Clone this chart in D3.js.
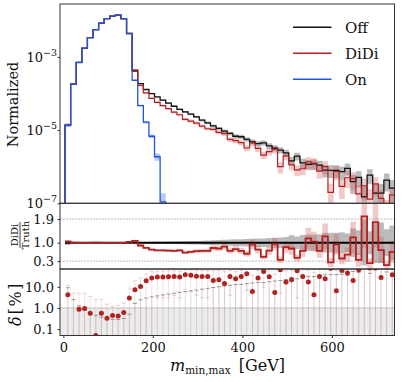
<!DOCTYPE html>
<html><head><meta charset="utf-8">
<script src="https://cdn.jsdelivr.net/npm/d3@7"></script>
<style>body{margin:0;background:#fff}svg{display:block;font-family:'DejaVu Serif',serif}</style>
</head><body><svg id="c" width="407" height="382"></svg>
<script>
// ---- data ----
const binStart = 3.75, binWidth = 12.5;
const xTicks = [0, 200, 400, 600];
const topTicks = [1e-7, 1e-5, 1e-3];
const ratioTicks = [0.3, 1.0, 1.9];
const deltaTicks = [0.1, 1.0, 10.0];
const legendLabels = ["Off", "DiDi", "On"];

const offValues = [1.36e-5,1.8e-4,7.1e-4,1.75e-3,3.37e-3,5.56e-3,8.4e-3,1.11e-2,1.31e-2,1.39e-2,
  1.11e-2,4.33e-3,4.13e-4,1.87e-4,1.29e-4,1.0e-4,8.1e-5,6.6e-5,5.5e-5,4.5e-5,
  3.7e-5,3.15e-5,2.72e-5,2.3e-5,1.87e-5,1.58e-5,1.31e-5,1.11e-5,9.4e-6,8.1e-6,
  6.8e-6,6.6e-6,5.6e-6,4.8e-6,4.3e-6,4.5e-6,3.7e-6,3.2e-6,2.85e-6,2.4e-6,
  1.45e-6,1.95e-6,1.28e-6,1.16e-6,1.2e-6,1.1e-6,8.1e-7,7.9e-7,7.9e-7,7.3e-7,
  9.0e-7,3.9e-7,5.1e-7,1.5e-7,5.9e-7,1.9e-7,1.9e-7,4.3e-7,2.6e-7];
const didiValues = [1.41e-5,1.8e-4,7.04e-4,1.73e-3,3.35e-3,5.56e-3,8.35e-3,1.107e-2,1.305e-2,1.384e-2,
  1.103e-2,4.46e-3,4.43e-4,1.67e-4,1.04e-4,7.4e-5,5.75e-5,4.69e-5,3.85e-5,3.1e-5,
  2.63e-5,1.97e-5,1.77e-5,1.56e-5,1.29e-5,1.09e-5,1.05e-5,8.66e-6,8.04e-6,5.59e-6,
  5.17e-6,4.55e-6,3.25e-6,4.51e-6,3.18e-6,2.07e-6,2.59e-6,3.03e-6,1.0e-6,1.99e-6,
  1.13e-6,8.2e-7,8.8e-7,1.35e-6,1.25e-6,7.6e-7,1.0e-6,2.0e-7,7.4e-7,2.9e-7,
  5.0e-7,4.7e-7,1.8e-7,3.0e-7,1.3e-7,3.4e-7,1.37e-7,6.5e-8,1.7e-7];
const onValues = [1.36e-5,1.8e-4,7.1e-4,1.75e-3,3.37e-3,5.56e-3,8.4e-3,1.11e-2,1.31e-2,1.39e-2,
  1.11e-2,4.33e-3,2.31e-4,4.7e-5,1.65e-5,6.8e-6,1.87e-6,1.1e-7];

const offErrPct = [9.1,2.5,1.27,0.81,0.58,0.45,0.37,0.32,0.29,0.29,
  0.32,0.51,1.66,2.46,2.97,3.37,3.75,4.15,4.55,5.0,
  5.5,6.0,6.5,7.0,7.8,8.5,9.3,10.1,11.0,11.8,
  12.9,13.1,14.2,15.4,16.3,15.9,17.5,18.9,20.0,21.8,
  28,24.1,29.8,31.3,30.8,32.2,37.5,38,38,39.5,
  35.5,54,47,87,44,77,77,51,66];
const didiErrPct = [6,2.5,1.2,0.8,0.6,0.5,0.4,0.4,0.3,0.3,
  0.4,0.6,3.5,5,5.5,6,6.5,7,7.5,8,
  8.5,9,9.5,10,10.5,11,12,13,14,15,
  16,17,18,19,20,22,22,24,35,25,
  30,32,34,34,36,38,40,70,42,55,
  48,50,75,60,85,55,70,90,65];
const onErrPct = [9,2.5,1.3,0.8,0.6,0.45,0.37,0.32,0.29,0.29,0.32,0.5,2.2,5,8,12,22,70];

const ratioValues = [1.04,1.0,0.991,0.991,0.994,1.0,0.994,0.997,0.996,0.996,
  0.994,1.03,1.073,0.895,0.805,0.74,0.71,0.71,0.70,0.69,
  0.71,0.624,0.65,0.68,0.69,0.69,0.80,0.78,0.855,0.69,
  0.76,0.69,0.58,0.94,0.74,0.46,0.70,0.946,0.35,0.83,
  0.78,0.42,0.69,1.168,1.04,0.69,1.24,0.25,0.935,0.40,
  0.55,1.20,0.35,2.0,0.22,1.78,0.72,0.15,0.65];

const deltaValues = [4.2,0.02,0.87,0.94,0.56,0.05,0.56,0.33,0.44,0.42,
  0.61,3.0,7.3,10.5,19.5,26,29,29,30,31,
  29,37.6,35,32,31,31,20,21.7,14.5,31,
  24,31,42,6.0,26,54,30,5.4,65,16.8,
  21.7,58,31,16.8,4.2,31,24,75,6.5,60,
  45,20,65,100,78,78,28,85,37.5];
const deltaErr = [7.5,5,4.1,4.1,2.9,2.4,2.0,1.2,0.75,0.9,
  1.1,5.7,12,15.5,20,28,26,26,27,27,
  26,30,29,28,28,28,38,38,40,27,
  30,30,35,30,35,45,38,35,60,40,
  40,55,45,45,45,50,50,80,55,70,
  60,60,80,120,90,100,90,100,80];

// ---- layout ----
const L = 60, R = 394.5;
const TOP = [4, 203.3], RAT = [203.3, 269], DEL = [269, 335.5];
const FONT = "'DejaVu Serif', serif";
const RED = "#b22222", BLUE = "#1f55dd";

const svg = d3.select('#c');
const x = d3.scaleLinear().domain([-7.5, 740]).range([L, R]);
const yTop = d3.scaleLog().domain([1e-7, 2.8e-2]).range([TOP[1], TOP[0]]);
const yRat = d3.scaleLinear().domain([0, 2.5]).range([RAT[1], RAT[0]]);
const yDel = d3.scaleLog().domain([0.05, 70]).range([DEL[1], DEL[0]]);

const edge = k => binStart + binWidth * k;
const center = k => binStart + binWidth * (k + 0.5);

const defs = svg.append('defs');
function clip(id, p) {
  defs.append('clipPath').attr('id', id).append('rect')
    .attr('x', L).attr('y', p[0]).attr('width', R - L).attr('height', p[1] - p[0]);
}
clip('cTop', TOP); clip('cRat', RAT); clip('cDel', DEL);

function safeY(y, bottom) { return v => (v == null || !(v > 0)) ? bottom + 30 : y(v); }
function stepLine(vals, y, bottom, withBase) {
  const pts = [];
  if (withBase) pts.push([edge(0), null]);
  vals.forEach((v, i) => pts.push([edge(i), v]));
  pts.push([edge(vals.length), vals[vals.length - 1]]);
  if (withBase) pts.push([edge(vals.length), null]);
  const fy = safeY(y, bottom);
  return d3.line().curve(d3.curveStepAfter).x(d => x(d[0])).y(d => fy(d[1]))(pts);
}
function stepBand(lo, hi, y, bottom) {
  const n = lo.length;
  const pts = lo.map((l, i) => [edge(i), l, hi[i]]);
  pts.push([edge(n), lo[n - 1], hi[n - 1]]);
  const fy = safeY(y, bottom);
  return d3.area().curve(d3.curveStepAfter).x(d => x(d[0])).y0(d => fy(d[1])).y1(d => fy(d[2]))(pts);
}

// ---- top panel ----
const gTop = svg.append('g').attr('clip-path', 'url(#cTop)');
const band = (vals, err) => [vals.map((v, i) => v * (1 - err[i] / 100)), vals.map((v, i) => v * (1 + err[i] / 100))];
let b = band(offValues, offErrPct);
gTop.append('path').attr('d', stepBand(b[0], b[1], yTop, TOP[1])).attr('fill', '#777').attr('opacity', 0.5);
b = band(didiValues, didiErrPct);
gTop.append('path').attr('d', stepBand(b[0], b[1], yTop, TOP[1])).attr('fill', '#d45a5a').attr('opacity', 0.33);
gTop.append('path').attr('d', stepLine(offValues, yTop, TOP[1], true)).attr('fill', 'none').attr('stroke', '#111').attr('stroke-width', 1.3);
gTop.append('path').attr('d', stepLine(didiValues, yTop, TOP[1], true)).attr('fill', 'none').attr('stroke', RED).attr('stroke-width', 1.2);
b = band(onValues, onErrPct);
gTop.append('path').attr('d', stepBand(b[0], b[1], yTop, TOP[1])).attr('fill', '#5a85ee').attr('opacity', 0.45);
gTop.append('path').attr('d', stepLine(onValues, yTop, TOP[1], true)).attr('fill', 'none').attr('stroke', BLUE).attr('stroke-width', 1.3);

// ---- ratio panel ----
const gRat = svg.append('g').attr('clip-path', 'url(#cRat)');
[0.3, 1.9].forEach(v => gRat.append('line').attr('x1', L).attr('x2', R).attr('y1', yRat(v)).attr('y2', yRat(v))
  .attr('stroke', '#aaa').attr('stroke-width', 0.8).attr('stroke-dasharray', '2,1'));
gRat.append('path').attr('d', stepBand(offErrPct.map(e => 1 - e / 100), offErrPct.map(e => 1 + e / 100), yRat, RAT[1] + 100))
  .attr('fill', '#777').attr('opacity', 0.5);
gRat.append('path').attr('d', stepBand(ratioValues.map((r, i) => r * (1 - didiErrPct[i] / 100)), ratioValues.map((r, i) => r * (1 + didiErrPct[i] / 100)), yRat, RAT[1] + 100))
  .attr('fill', '#d45a5a').attr('opacity', 0.33);
gRat.append('path').attr('d', stepLine(offValues.map(() => 1), yRat, RAT[1], false)).attr('fill', 'none').attr('stroke', '#000').attr('stroke-width', 2);
gRat.append('path').attr('d', stepLine(ratioValues, yRat, RAT[1], false)).attr('fill', 'none').attr('stroke', RED).attr('stroke-width', 1.8);

// ---- delta panel ----
const gDel = svg.append('g').attr('clip-path', 'url(#cDel)');
gDel.append('rect').attr('x', L).attr('width', R - L).attr('y', yDel(1)).attr('height', DEL[1] - yDel(1)).attr('fill', '#ececec');
gDel.append('line').attr('x1', L).attr('x2', R).attr('y1', yDel(1)).attr('y2', yDel(1)).attr('stroke', '#b5b5b5').attr('stroke-width', 0.8);
const cap = 2;
offErrPct.forEach((e, i) => {
  const cx = x(center(i)), yt = yDel(e);
  gDel.append('line').attr('x1', cx).attr('x2', cx).attr('y1', DEL[1] + 5).attr('y2', yt).attr('stroke', '#8a8a8a').attr('stroke-opacity', 0.35).attr('stroke-width', 0.8);
  gDel.append('line').attr('x1', cx - cap).attr('x2', cx + cap).attr('y1', yt).attr('y2', yt).attr('stroke', '#666').attr('stroke-opacity', 0.75).attr('stroke-width', 0.9);
});
deltaValues.forEach((d, i) => {
  const cx = x(center(i));
  const hi = d + deltaErr[i], lo = d - deltaErr[i];
  const yhi = yDel(hi), ylo = lo > 0 ? yDel(lo) : DEL[1] + 5;
  gDel.append('line').attr('x1', cx).attr('x2', cx).attr('y1', ylo).attr('y2', yhi).attr('stroke', '#d07a7a').attr('stroke-opacity', 0.28).attr('stroke-width', 0.8);
  gDel.append('line').attr('x1', cx - cap).attr('x2', cx + cap).attr('y1', yhi).attr('y2', yhi).attr('stroke', '#d07a7a').attr('stroke-opacity', 0.45).attr('stroke-width', 0.8);
  if (lo > 0) gDel.append('line').attr('x1', cx - cap).attr('x2', cx + cap).attr('y1', ylo).attr('y2', ylo).attr('stroke', '#d07a7a').attr('stroke-opacity', 0.45).attr('stroke-width', 0.8);
});
deltaValues.forEach((d, i) => {
  gDel.append('circle').attr('cx', x(center(i))).attr('cy', yDel(d)).attr('r', 2.5).attr('fill', RED);
});

// ---- frames ----
[TOP, RAT, DEL].forEach(p => svg.append('rect').attr('x', L).attr('y', p[0]).attr('width', R - L).attr('height', p[1] - p[0])
  .attr('fill', 'none').attr('stroke', '#333').attr('stroke-width', 1));

// ---- axes ----
function styleAxis(g) {
  g.attr('font-family', FONT).attr('font-size', 13);
  g.select('.domain').remove();
  g.selectAll('.tick line').attr('stroke', '#333');
  g.selectAll('.tick text').attr('fill', '#111');
}
svg.append('g').attr('transform', `translate(${L},0)`)
  .call(d3.axisLeft(yTop).tickValues(topTicks).tickSize(2.5).tickFormat('')).call(styleAxis);
topTicks.forEach(v => {
  const t = svg.append('text').attr('x', 57).attr('y', yTop(v) + 4.6).attr('text-anchor', 'end')
    .attr('font-family', FONT).attr('font-size', 13).attr('fill', '#111');
  t.append('tspan').text('10');
  t.append('tspan').attr('dy', -6).attr('font-size', 9.5).text('\u2212' + Math.round(-Math.log10(v)));
});
svg.append('g').attr('transform', `translate(${L},0)`)
  .call(d3.axisLeft(yRat).tickValues(ratioTicks).tickSize(2.5).tickPadding(3.5).tickFormat(d3.format('.1f'))).call(styleAxis);
svg.append('g').attr('transform', `translate(${L},0)`)
  .call(d3.axisLeft(yDel).tickValues(deltaTicks).tickSize(2.5).tickPadding(3.5).tickFormat(d3.format('.1f'))).call(styleAxis);
svg.append('g').attr('transform', `translate(0,${DEL[1]})`)
  .call(d3.axisBottom(x).tickValues(xTicks).tickSize(2.5).tickPadding(4.5).tickFormat(d3.format('d'))).call(styleAxis);

// ---- labels ----
svg.append('text').attr('transform', 'translate(17.5,104.5) rotate(-90)').attr('text-anchor', 'middle')
  .attr('font-family', FONT).attr('font-size', 14.5).attr('fill', '#111').text('Normalized');
const fr = svg.append('g').attr('transform', 'translate(20,235) rotate(-90)').attr('font-family', FONT).attr('font-size', 10).attr('fill', '#111');
fr.append('text').attr('text-anchor', 'middle').attr('y', -2.2).text('DiDi');
fr.append('line').attr('x1', -13).attr('x2', 13).attr('y1', 0).attr('y2', 0).attr('stroke', '#111').attr('stroke-width', 0.8);
fr.append('text').attr('text-anchor', 'middle').attr('y', 9).text('Truth');
const dl = svg.append('text').attr('transform', 'translate(21,304) rotate(-90)').attr('text-anchor', 'middle')
  .attr('font-family', FONT).attr('font-size', 16).attr('fill', '#111');
dl.append('tspan').attr('font-style', 'italic').text('\u03b4');
dl.append('tspan').text('[%]').attr('dx', 2).attr('letter-spacing', 1.5);
const xl = svg.append('text').attr('x', 227.5).attr('y', 370.5).attr('text-anchor', 'middle')
  .attr('font-family', FONT).attr('font-size', 16).attr('fill', '#111');
xl.append('tspan').attr('font-style', 'italic').text('m');
xl.append('tspan').attr('font-size', 10.5).attr('dy', 3.5).text('min,max');
xl.append('tspan').attr('dy', -3.5).text('\u2002[GeV]');

// ---- legend ----
const legColors = ['#111', RED, BLUE];
legendLabels.forEach((lab, i) => {
  const yy = 27.3 + i * 26;
  svg.append('line').attr('x1', 293).attr('x2', 331.5).attr('y1', yy).attr('y2', yy).attr('stroke', legColors[i]).attr('stroke-width', 1.6);
  svg.append('text').attr('x', 345).attr('y', yy + 5.3).attr('font-family', FONT).attr('font-size', 15).attr('fill', '#111').text(lab);
});
</script></body></html>
